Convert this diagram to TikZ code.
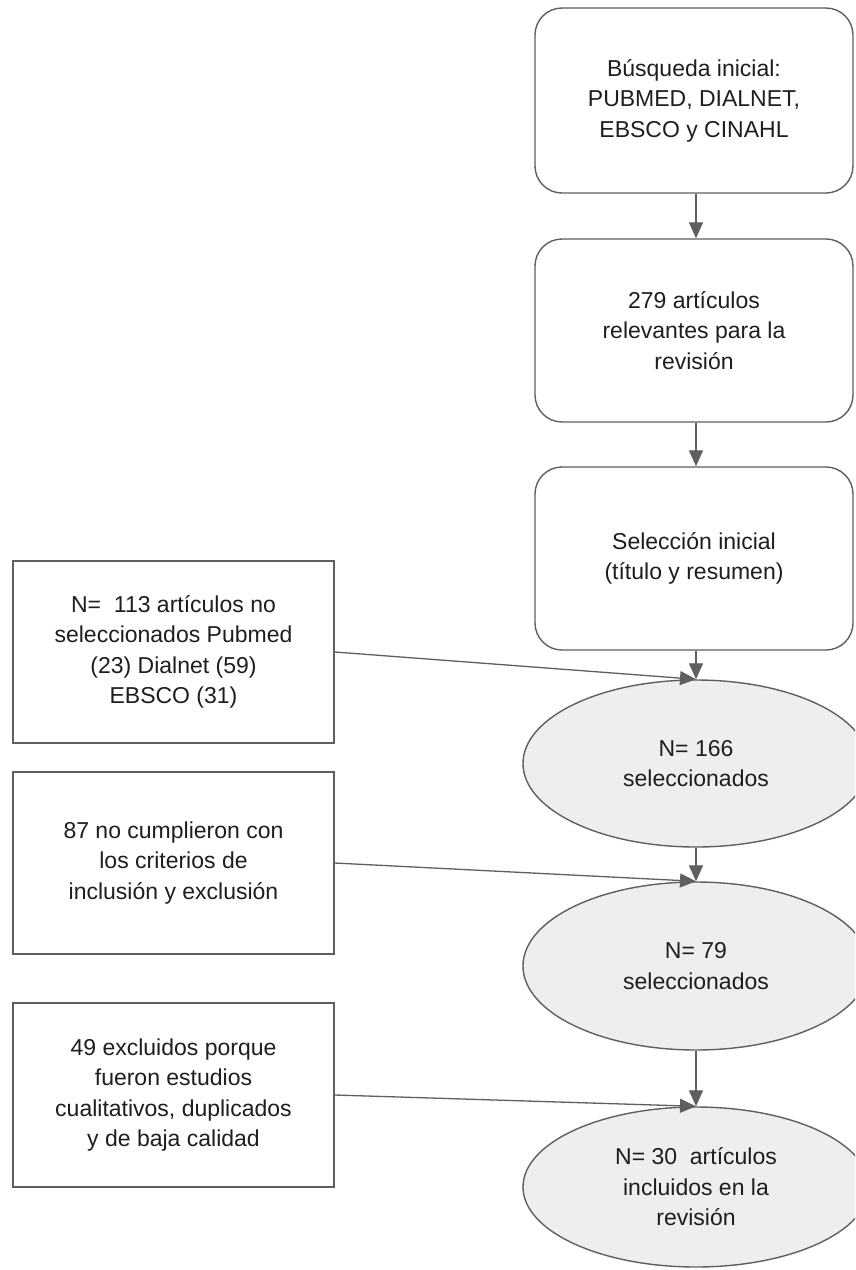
\documentclass[tikz,border=0pt]{standalone}
\usepackage{fontspec}
\setmainfont{Liberation Sans}
\usetikzlibrary{shapes.geometric,arrows.meta}
\definecolor{edge}{HTML}{5F5F5F}
\definecolor{efill}{HTML}{EEEEEE}
\definecolor{txt}{HTML}{1E1E1E}
\begin{document}
\begin{tikzpicture}[x=1pt,y=-1pt,
  every node/.style={font=\fontsize{23}{30.5}\selectfont, text=txt, align=center, inner sep=0pt},
  rbox/.style={draw=edge, line width=1.4pt, rounded corners=27pt, fill=white, minimum width=318pt},
  lbox/.style={draw=edge, line width=1.4pt, fill=white, minimum width=321pt},
  oval/.style={ellipse, draw=edge, line width=1.4pt, fill=efill, minimum width=346pt},
  conn/.style={draw=edge, line width=1.3pt, -{Triangle[length=16pt,width=14pt]}}
]
\useasboundingbox (0,0) rectangle (855,1270);
\clip (0,0) rectangle (855,1270);
\fill[white] (0,0) rectangle (855,1270);

\node[rbox, minimum height=185pt] (b1) at (694,100.5) {Búsqueda inicial:\\PUBMED, DIALNET,\\EBSCO y CINAHL};
\node[rbox, minimum height=183pt] (b2) at (694,330.5) {279 artículos\\relevantes para la\\revisión};
\node[rbox, minimum height=183pt] (b3) at (694,558.5) {Selección inicial\\(título y resumen)};

\node[oval, minimum height=167pt] (e1) at (696,763.5) {N= 166\\seleccionados};
\node[oval, minimum height=168pt] (e2) at (696,966) {N= 79\\seleccionados};
\node[oval, minimum height=160pt] (e3) at (696,1187) {N= 30~ artículos\\incluidos en la\\revisión};

\node[lbox, minimum height=182pt] (l1) at (173.5,652) {N=~ 113 artículos no\\seleccionados Pubmed\\(23) Dialnet (59)\\EBSCO (31)};
\node[lbox, minimum height=182pt] (l2) at (173.5,863) {87 no cumplieron con\\los criterios de\\inclusión y exclusión};
\node[lbox, minimum height=184pt] (l3) at (173.5,1095) {49 excluidos porque\\fueron estudios\\cualitativos, duplicados\\y de baja calidad};

\draw[conn] (b1.south -| 696,0) -- (b2.north -| 696,0);
\draw[conn] (b2.south -| 696,0) -- (b3.north -| 696,0);
\draw[conn] (b3.south -| 696,0) -- (e1.north);
\draw[conn] (e1.south) -- (e2.north);
\draw[conn] (e2.south) -- (e3.north);

\draw[conn] (l1.east) -- (e1.north);
\draw[conn] (l2.east) -- (e2.north);
\draw[conn] (l3.east) -- (e3.north);
\end{tikzpicture}
\end{document}
